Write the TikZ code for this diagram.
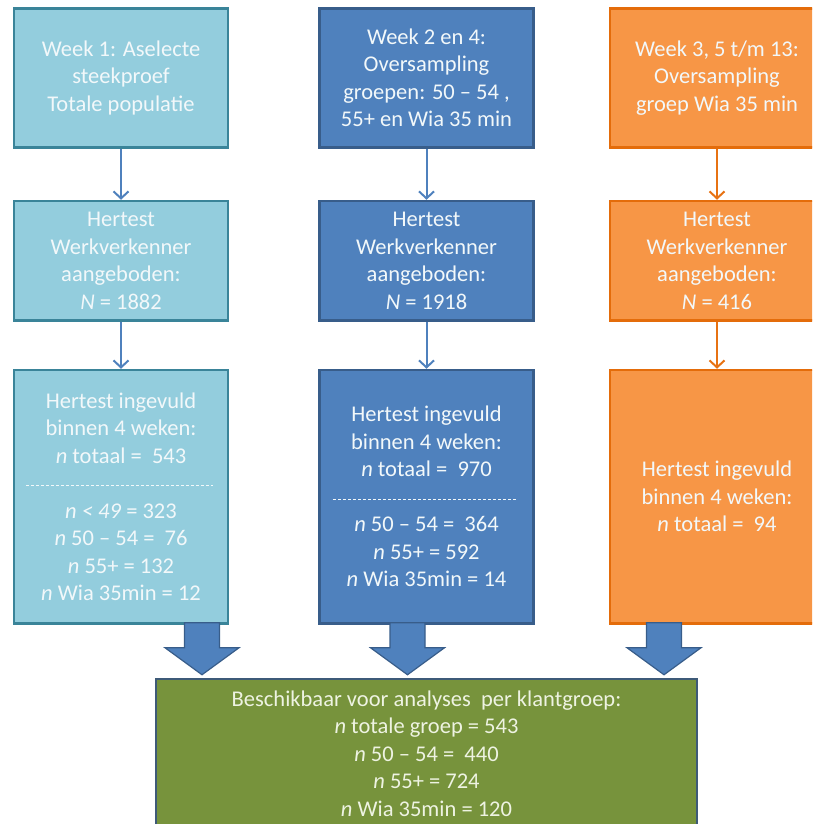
\documentclass[tikz,border=0pt]{standalone}
\usepackage{fontspec}
\setmainfont{Carlito}
\usetikzlibrary{positioning,arrows.meta,calc}
\definecolor{lbfill}{HTML}{93CDDD}
\definecolor{lbedge}{HTML}{3A8499}
\definecolor{dbfill}{HTML}{4F81BD}
\definecolor{dbedge}{HTML}{385D8A}
\definecolor{orfill}{HTML}{F79646}
\definecolor{oredge}{HTML}{E46C0A}
\definecolor{grfill}{HTML}{77933C}
\definecolor{gredge}{HTML}{3E5A78}
\definecolor{boxtext}{HTML}{F2F8FA}
\definecolor{grtext}{HTML}{EEF3E2}
\newcommand{\fatarrow}[2]{%
  \filldraw[blockarr] ($(#1)+(-17.5,0)$) -- ($(#2)+(-17.5,-27)$) -- ($(#2)+(-37,-27)$) -- (#2) -- ($(#2)+(37,-27)$) -- ($(#2)+(17.5,-27)$) -- ($(#1)+(17.5,0)$) -- cycle;%
}

\begin{document}
\begin{tikzpicture}[x=1pt,y=-1pt,
        box/.style={shape=rectangle, line width=2.5pt, align=center, inner sep=0pt, text=boxtext, font=\fontsize{22.5}{27.5}\selectfont},
        light/.style={box, fill=lbfill, draw=lbedge},
        dark/.style={box, fill=dbfill, draw=dbedge},
        orange/.style={box, fill=orfill, draw=oredge},
        weekbox/.style={minimum width=214pt, minimum height=139pt},
        offerbox/.style={minimum width=214pt, minimum height=119.5pt},
        donebox/.style={minimum width=214pt, minimum height=253.5pt},
        flowb/.style={draw=dbfill, line width=2pt, -{Straight Barb[length=7pt,width=15pt]}},
        flowo/.style={draw=oredge!85!orfill, line width=2pt, -{Straight Barb[length=7pt,width=15pt]}},
        sep/.style={draw=boxtext, line width=1pt, dash pattern=on 3pt off 2pt},
        blockarr/.style={fill=dbfill, draw=dbedge, line width=1.2pt, line join=miter},
    ]
        \path[use as bounding box] (0,0) rectangle (812,824);
        \clip (0,0) rectangle (812,824);
        \node[light,weekbox] (w1) at (121,78) {Week 1: Aselecte\\steekproef\\Totale populatie};
        \node[dark,weekbox,right=89pt of w1] (w2) {Week 2 en 4:\\Oversampling\\groepen: 50 -- 54 ,\\55+ en Wia 35 min};
        \node[orange,weekbox,right=74pt of w2] (w3) {Week 3, 5 t/m 13:\\Oversampling\\groep Wia 35 min};

        \node[light,offerbox,below=51pt of w1] (h1) {Hertest\\Werkverkenner\\aangeboden:\\\textit{N} = 1882};
        \node[dark,offerbox,below=51pt of w2] (h2) {Hertest\\Werkverkenner\\aangeboden:\\\textit{N} = 1918};
        \node[orange,offerbox,below=51pt of w3] (h3) {Hertest\\Werkverkenner\\aangeboden:\\\textit{N} = 416};

        \node[light,donebox,below=47pt of h1] (i1) {Hertest ingevuld\\binnen 4 weken:\\\textit{n} totaal =\ \ 543\\[27.5pt]\textit{n < 49} = 323\\\textit{n} 50 -- 54 =\ \ 76\\\textit{n} 55+ = 132\\\textit{n} Wia 35min = 12};
        \node[dark,donebox,below=47pt of h2] (i2) {Hertest ingevuld\\binnen 4 weken:\\\textit{n} totaal =\ \ 970\\[27.5pt]\textit{n} 50 -- 54 =\ \ 364\\\textit{n} 55+ = 592\\\textit{n} Wia 35min = 14};
        \node[orange,donebox,below=47pt of h3] (i3) {Hertest ingevuld\\binnen 4 weken:\\\textit{n} totaal =\ \ 94};

        \draw[sep] ([xshift=13pt,yshift=11pt]i1.west) -- ([xshift=-16pt,yshift=11pt]i1.east);
        \draw[sep] ([xshift=15pt,yshift=-3pt]i2.west) -- ([xshift=-18pt,yshift=-3pt]i2.east);

        \node[box, fill=grfill, draw=gredge, text=grtext, minimum width=541pt, minimum height=149pt, below=53pt of i2] (res) {Beschikbaar voor analyses\ \ per klantgroep:\\\textit{n} totale groep = 543\\\textit{n} 50 -- 54 =\ \ 440\\\textit{n} 55+ = 724\\\textit{n} Wia 35min = 120};

        \draw[flowb] (w1) -- (h1);
        \draw[flowb] (h1) -- (i1);
        \draw[flowb] (w2) -- (h2);
        \draw[flowb] (h2) -- (i2);
        \draw[flowo] (w3) -- (h3);
        \draw[flowo] (h3) -- (i3);

        \coordinate (s1) at ([xshift=81pt,yshift=2pt]i1.south);
        \coordinate (s2) at ([xshift=-19pt,yshift=2pt]i2.south);
        \coordinate (s3) at ([xshift=-53pt,yshift=2pt]i3.south);
        \coordinate (e1) at ([yshift=3pt]s1 |- res.north);
        \coordinate (e2) at ([yshift=3pt]s2 |- res.north);
        \coordinate (e3) at ([yshift=3pt]s3 |- res.north);
        \fatarrow{s1}{e1}
        \fatarrow{s2}{e2}
        \fatarrow{s3}{e3}
\end{tikzpicture}
\end{document}
